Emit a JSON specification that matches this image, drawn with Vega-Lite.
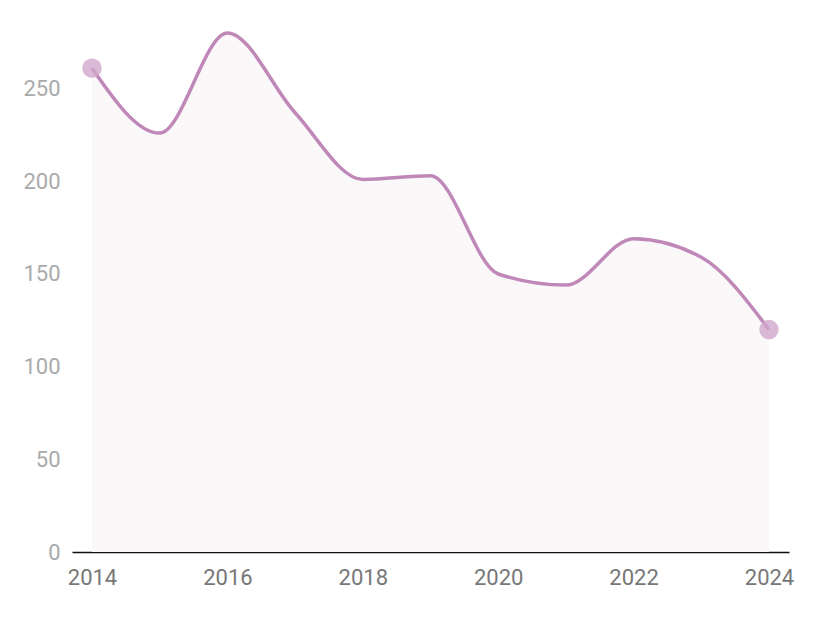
{
  "$schema": "https://vega.github.io/schema/vega-lite/v6.json",
  "width": 717,
  "height": 519,
  "padding": {"left": 72, "top": 33, "right": 27, "bottom": 68},
  "autosize": {"type": "none"},
  "background": "white",
  "config": {"view": {"stroke": null}, "font": "Roboto"},
  "data": {"values": [
    {"year": 2014, "value": 261},
    {"year": 2015, "value": 226},
    {"year": 2016, "value": 280},
    {"year": 2017, "value": 237},
    {"year": 2018, "value": 201},
    {"year": 2019, "value": 203},
    {"year": 2020, "value": 150},
    {"year": 2021, "value": 144},
    {"year": 2022, "value": 169},
    {"year": 2023, "value": 159},
    {"year": 2024, "value": 120}
  ]},
  "encoding": {
    "x": {"field": "year", "type": "quantitative",
      "scale": {"domain": [2014, 2024], "padding": 20, "nice": false, "zero": false},
      "axis": {"title": null, "values": [2014, 2016, 2018, 2020, 2022, 2024], "format": "d",
        "grid": false, "ticks": false, "domainColor": "#111111", "domainWidth": 1.6,
        "labelColor": "#777777", "labelFontSize": 22, "labelPadding": 15, "labelFlush": false}},
    "y": {"field": "value", "type": "quantitative",
      "scale": {"domain": [0, 280], "nice": false},
      "axis": {"title": null, "values": [0, 50, 100, 150, 200, 250], "grid": false, "ticks": false,
        "domain": false, "labelColor": "#aaaaaa", "labelFontSize": 22, "labelPadding": 12}}
  },
  "layer": [
    {"mark": {"type": "area", "interpolate": "monotone", "color": "#fbf8fa"}},
    {"mark": {"type": "line", "interpolate": "monotone", "color": "#c088b8", "strokeWidth": 3.5}},
    {"transform": [{"filter": "datum.year == 2014 || datum.year == 2024"}],
     "mark": {"type": "circle", "size": 380, "color": "#cfa8cb", "opacity": 0.8}}
  ]
}
